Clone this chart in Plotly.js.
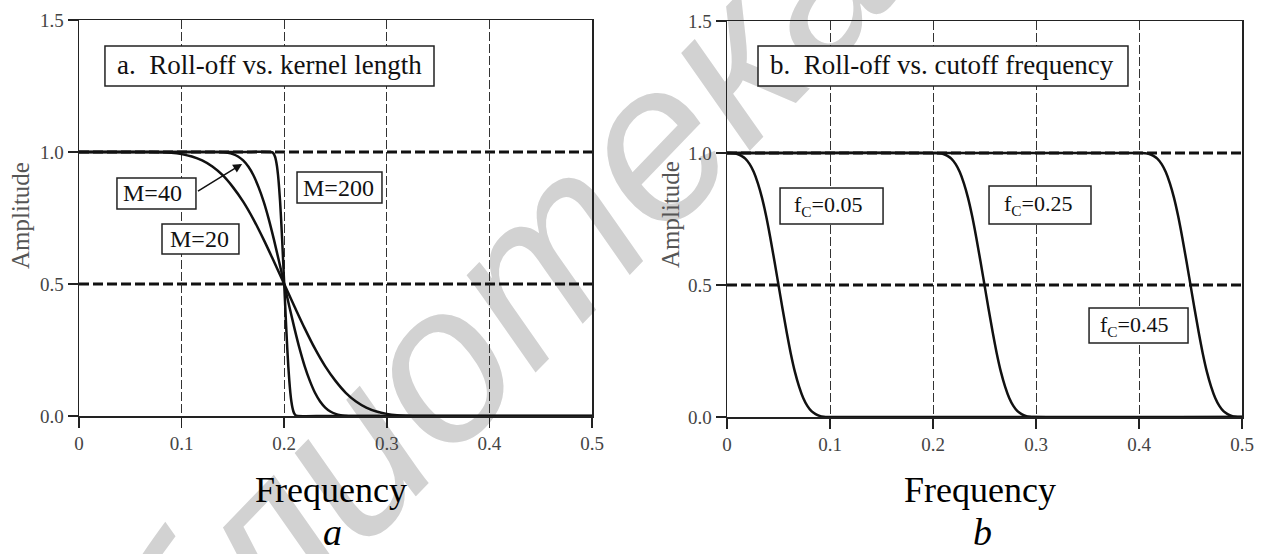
<!DOCTYPE html>
<html>
<head>
<meta charset="utf-8">
<script src="https://cdn.plot.ly/plotly-3.0.1.min.js"></script>
<style>
  html, body { margin: 0; padding: 0; background: #fff; }
  #wrap { position: relative; width: 1261px; height: 554px; overflow: hidden; }
  #mark { position: absolute; left: 0; top: 0; }
  #chart { position: absolute; left: 0; top: 0; width: 1261px; height: 554px; }
</style>
</head>
<body>
<div id="wrap">
  <svg id="mark" width="1261" height="554">
    <text x="5" y="922" transform="rotate(-46 5 922)" font-family="Liberation Sans" font-style="italic"
          font-size="222" fill="#d2d2d2">Библиотека БГУИР</text>
  </svg>
  <div id="chart"></div>
</div>
<script>
// ---- panel a: windowed-sinc response, cutoff 0.2, three kernel lengths ----
const ampKernel = [1, 1, 1, 0.999, 0.997, 0.992, 0.983, 0.968, 0.945, 0.912, 0.867, 0.812, 0.745, 0.668, 0.585,
                   0.5, 0.415, 0.332, 0.255, 0.188, 0.133, 0.088, 0.055, 0.032, 0.017, 0.008, 0.003, 0.001, 0, 0, 0];
const freqM20 = [0, 0.05, 0.07, 0.08, 0.09, 0.10, 0.11, 0.12, 0.13, 0.14, 0.15, 0.16, 0.17, 0.18, 0.19,
                 0.20, 0.21, 0.22, 0.23, 0.24, 0.25, 0.26, 0.27, 0.28, 0.29, 0.30, 0.31, 0.32, 0.33, 0.40, 0.50];
const freqM40 = [0, 0.10, 0.135, 0.14, 0.145, 0.15, 0.155, 0.16, 0.165, 0.17, 0.175, 0.18, 0.185, 0.19, 0.195,
                 0.20, 0.205, 0.21, 0.215, 0.22, 0.225, 0.23, 0.235, 0.24, 0.245, 0.25, 0.255, 0.26, 0.265, 0.30, 0.50];
const freqM200 = [0, 0.15, 0.187, 0.188, 0.189, 0.190, 0.191, 0.192, 0.193, 0.194, 0.195, 0.196, 0.197, 0.198, 0.199,
                  0.200, 0.201, 0.202, 0.203, 0.204, 0.205, 0.206, 0.207, 0.208, 0.209, 0.210, 0.211, 0.212, 0.213, 0.25, 0.50];

// ---- panel b: same kernel length, three cutoff frequencies ----
const ampCutoff = [1, 1, 0.999, 0.996, 0.989, 0.978, 0.958, 0.928, 0.885, 0.830, 0.761, 0.680, 0.592,
                   0.5, 0.408, 0.320, 0.239, 0.170, 0.115, 0.072, 0.042, 0.022, 0.011, 0.004, 0.001, 0, 0];
const freqFc05 = [0, 0.002, 0.006, 0.010, 0.014, 0.018, 0.022, 0.026, 0.030, 0.034, 0.038, 0.042, 0.046,
                  0.050, 0.054, 0.058, 0.062, 0.066, 0.070, 0.074, 0.078, 0.082, 0.086, 0.090, 0.094, 0.098, 0.5];
const freqFc25 = [0, 0.202, 0.206, 0.210, 0.214, 0.218, 0.222, 0.226, 0.230, 0.234, 0.238, 0.242, 0.246,
                  0.250, 0.254, 0.258, 0.262, 0.266, 0.270, 0.274, 0.278, 0.282, 0.286, 0.290, 0.294, 0.298, 0.5];
const freqFc45 = [0, 0.402, 0.406, 0.410, 0.414, 0.418, 0.422, 0.426, 0.430, 0.434, 0.438, 0.442, 0.446,
                  0.450, 0.454, 0.458, 0.462, 0.466, 0.470, 0.474, 0.478, 0.482, 0.486, 0.490, 0.494, 0.498, 0.5];

// axis ticks and reference levels
const xTickVals = [0, 0.1, 0.2, 0.3, 0.4, 0.5];
const xTickText = ['0', '0.1', '0.2', '0.3', '0.4', '0.5'];
const yTickVals = [0, 0.5, 1.0, 1.5];
const yTickText = ['0.0', '0.5', '1.0', '1.5'];
const refLevels = [0.5, 1.0];

const W = 1261, H = 554;
const px = v => v / W;
const py = v => 1 - v / H;

const SERIF = 'Liberation Serif, Times New Roman, serif';
const curveLine = { color: '#111', width: 2.5, shape: 'spline', smoothing: 1 };

function curve(x, y, xa, ya) {
  return { type: 'scatter', mode: 'lines', x: x, y: y, xaxis: xa, yaxis: ya,
           line: curveLine, hoverinfo: 'skip' };
}

const traces = [
  curve(freqM20, ampKernel, 'x', 'y'),
  curve(freqM40, ampKernel, 'x', 'y'),
  curve(freqM200, ampKernel, 'x', 'y'),
  curve(freqFc05, ampCutoff, 'x2', 'y2'),
  curve(freqFc25, ampCutoff, 'x2', 'y2'),
  curve(freqFc45, ampCutoff, 'x2', 'y2')
];

const xCommon = {
  range: [0, 0.5], tickvals: xTickVals, ticktext: xTickText,
  showline: true, linecolor: '#222', linewidth: 1.5, mirror: true,
  ticks: 'outside', ticklen: 10, tickwidth: 1.5, tickcolor: '#222',
  showgrid: true, gridcolor: '#333', gridwidth: 1, griddash: '9px,3px',
  zeroline: false, fixedrange: true,
  tickfont: { family: SERIF, size: 19, color: '#444' }
};
const yCommon = {
  range: [0, 1.5], tickvals: yTickVals, ticktext: yTickText,
  showline: true, linecolor: '#222', linewidth: 1.5, mirror: true,
  ticks: 'outside', ticklen: 10, tickwidth: 1.5, tickcolor: '#222',
  showgrid: false, zeroline: false, fixedrange: true,
  tickfont: { family: SERIF, size: 19, color: '#444' }
};

const shapes = [];
[['x', 'y'], ['x2', 'y2']].forEach(([xa, ya]) => {
  refLevels.forEach(lv => shapes.push({
    type: 'line', xref: xa, yref: ya, x0: 0, x1: 0.5, y0: lv, y1: lv, layer: 'below',
    line: { color: '#111', width: 3, dash: '10px,4px' }
  }));
});

// framed label boxes (white fill so grid lines stop at the frame)
function frame(xa, ya, x0, x1, y0, y1) {
  shapes.push({ type: 'rect', xref: xa, yref: ya, x0: x0, x1: x1, y0: y0, y1: y1, layer: 'above',
                fillcolor: '#fff', line: { color: '#222', width: 1.5 } });
}
frame('x', 'y', 0.0253, 0.3460, 1.2500, 1.4015);
frame('x', 'y', 0.0370, 0.1140, 0.7841, 0.9015);
frame('x', 'y', 0.0809, 0.1559, 0.6136, 0.7273);
frame('x', 'y', 0.2125, 0.2953, 0.8068, 0.9242);
frame('x2', 'y2', 0.0301, 0.3893, 1.2538, 1.4053);
frame('x2', 'y2', 0.0515, 0.1515, 0.7311, 0.8674);
frame('x2', 'y2', 0.2544, 0.3534, 0.7311, 0.8750);
frame('x2', 'y2', 0.3515, 0.4476, 0.2803, 0.4129);

function label(xa, ya, x, y, text, size, anchor) {
  return { xref: xa, yref: ya, x: x, y: y, xanchor: anchor, yanchor: 'middle',
           text: text, showarrow: false, font: { family: SERIF, size: size, color: '#111' } };
}

function freeText(x, y, text, font, angle) {
  return { xref: 'paper', yref: 'paper', x: x, y: y, xanchor: 'center', yanchor: 'middle',
           text: text, showarrow: false, font: font, textangle: angle || 0 };
}

const annotations = [
  label('x', 'y', 0.0351, 1.3290, 'a.\u00a0 Roll-off vs. kernel length', 27, 'left'),
  label('x', 'y', 0.0712, 0.8428, 'M=40', 24, 'center'),
  label('x', 'y', 0.1170, 0.6705, 'M=20', 24, 'center'),
  label('x', 'y', 0.2531, 0.8655, 'M=200', 24, 'center'),
  { xref: 'x', yref: 'y', x: 0.159, y: 0.955, axref: 'x', ayref: 'y', ax: 0.1145, ay: 0.848,
    text: '', showarrow: true, arrowhead: 2, arrowsize: 1.2, arrowwidth: 1.5, arrowcolor: '#111', standoff: 0 },

  label('x2', 'y2', 0.0398, 1.3333, 'b.\u00a0 Roll-off vs. cutoff frequency', 27, 'left'),
  label('x2', 'y2', 0.0628, 0.7992, 'f<sub>C</sub>=0.05', 22, 'left'),
  label('x2', 'y2', 0.2667, 0.8030, 'f<sub>C</sub>=0.25', 22, 'left'),
  label('x2', 'y2', 0.3602, 0.3466, 'f<sub>C</sub>=0.45', 22, 'left'),

  freeText(px(20), py(216), 'Amplitude', { family: SERIF, size: 25, color: '#555' }, -90),
  freeText(px(671), py(215), 'Amplitude', { family: SERIF, size: 25, color: '#555' }, -90),
  freeText(px(331), py(490), 'Frequency', { family: SERIF, size: 36, color: '#000' }),
  freeText(px(980), py(490), 'Frequency', { family: SERIF, size: 36, color: '#000' }),
  freeText(px(332), py(532), '<i>a</i>', { family: SERIF, size: 38, color: '#000' }),
  freeText(px(982), py(532), '<i>b</i>', { family: SERIF, size: 38, color: '#000' })
];

const layout = {
  width: W, height: H, margin: { l: 0, r: 0, t: 0, b: 0 },
  showlegend: false,
  paper_bgcolor: 'rgba(0,0,0,0)', plot_bgcolor: 'rgba(0,0,0,0)',
  xaxis: Object.assign({}, xCommon, { domain: [px(79), px(592)], anchor: 'y' }),
  yaxis: Object.assign({}, yCommon, { domain: [py(416), py(20)], anchor: 'x' }),
  xaxis2: Object.assign({}, xCommon, { domain: [px(727), px(1242)], anchor: 'y2' }),
  yaxis2: Object.assign({}, yCommon, { domain: [py(417), py(21)], anchor: 'x2' }),
  shapes: shapes,
  annotations: annotations
};

Plotly.newPlot('chart', traces, layout, { staticPlot: true, displayModeBar: false });
</script>
</body>
</html>
